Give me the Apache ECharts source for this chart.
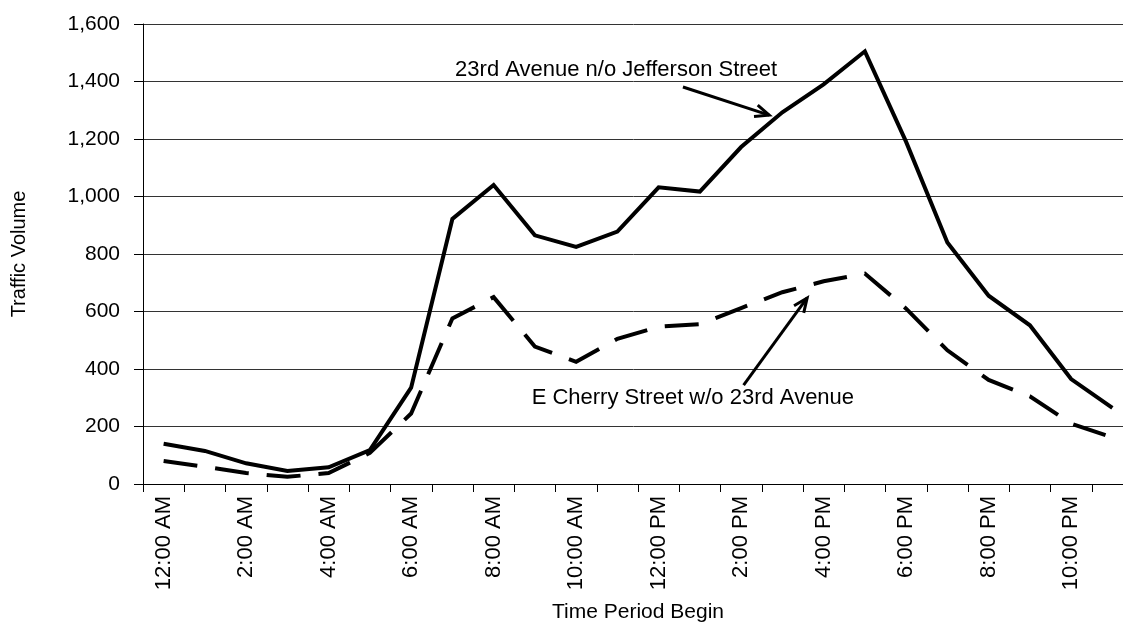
<!DOCTYPE html>
<html>
<head>
<meta charset="utf-8">
<script src="https://cdn.jsdelivr.net/npm/echarts@6/dist/echarts.min.js"></script>
<style>
html,body{margin:0;padding:0;background:#fff;}
#chart{width:1123px;height:627px;}
</style>
</head>
<body>
<div id="chart"></div>
<script>
var categories = ["12:00 AM","1:00 AM","2:00 AM","3:00 AM","4:00 AM","5:00 AM","6:00 AM","7:00 AM","8:00 AM","9:00 AM","10:00 AM","11:00 AM",
  "12:00 PM","1:00 PM","2:00 PM","3:00 PM","4:00 PM","5:00 PM","6:00 PM","7:00 PM","8:00 PM","9:00 PM","10:00 PM","11:00 PM"];
var avenue23 = [140,115,72,45,58,118,335,922,1040,865,825,878,1032,1017,1172,1293,1390,1505,1190,840,655,552,365,265];
var cherry = [80,60,38,25,38,108,245,576,650,478,425,505,547,556,612,667,705,732,610,465,362,305,210,162];
var seriesNames = ["23rd Avenue n/o Jefferson Street","E Cherry Street w/o 23rd Avenue"];
var yTicks = {min:0, max:1600, interval:200};

var FONT = "'Liberation Sans', Arial, sans-serif";
var chart = echarts.init(document.getElementById('chart'), null, {renderer:'canvas'});
chart.setOption({
  animation:false,
  backgroundColor:'#fff',
  grid:{left:143, right:-10, top:24, bottom:143, containLabel:false, outerBoundsMode:'none'},
  xAxis:{
    type:'category', data:categories, boundaryGap:true,
    name:'Time Period Begin', nameLocation:'middle', nameGap:118,
    nameTextStyle:{fontFamily:FONT, fontSize:21, color:'#000'},
    axisLine:{lineStyle:{color:'#000', width:1}},
    axisTick:{show:true, alignWithLabel:false, interval:0, length:8, lineStyle:{color:'#000'}},
    axisLabel:{interval:1, rotate:90, margin:12, fontFamily:FONT, fontSize:22, color:'#000'},
    splitLine:{show:false}
  },
  yAxis:{
    type:'value', min:yTicks.min, max:yTicks.max, interval:yTicks.interval,
    name:'Traffic Volume', nameLocation:'middle', nameGap:114, nameRotate:90,
    nameTextStyle:{fontFamily:FONT, fontSize:20, color:'#000'},
    axisLine:{show:true, lineStyle:{color:'#000', width:1}},
    axisTick:{show:true, length:9, lineStyle:{color:'#000'}},
    axisLabel:{margin:23, fontFamily:FONT, fontSize:21, color:'#000',
      formatter:function(v){return v.toLocaleString('en-US');}},
    splitLine:{show:true, lineStyle:{color:'#333', width:1}}
  },
  series:[
    {name:seriesNames[0], type:'line', data:avenue23, symbol:'none', smooth:false,
     lineStyle:{color:'#000', width:4, cap:'butt', join:'miter'}},
    {name:seriesNames[1], type:'line', data:cherry, symbol:'none', smooth:false,
     lineStyle:{color:'#000', width:4, type:[34,18], cap:'butt', join:'miter'}}
  ]
});

// annotation positions in data space (category index, value)
function px(idx, val){
  var i0 = Math.floor(idx), f = idx - i0;
  var a = chart.convertToPixel({gridIndex:0}, [i0, val]);
  var b = chart.convertToPixel({gridIndex:0}, [i0+1, val]);
  return [a[0] + f*(b[0]-a[0]), a[1]];
}
function arrow(p0, p1){
  var dx = p1[0]-p0[0], dy = p1[1]-p0[1];
  var L = Math.sqrt(dx*dx+dy*dy), ux = dx/L, uy = dy/L;
  var h = 14, w = 6;
  var bx = p1[0]-ux*h, by = p1[1]-uy*h;
  return [
    {type:'line', shape:{x1:p0[0],y1:p0[1],x2:p1[0],y2:p1[1]}, style:{stroke:'#000', lineWidth:3}},
    {type:'polyline', shape:{points:[[bx-uy*w, by+ux*w],[p1[0],p1[1]],[bx+uy*w, by-ux*w]]}, style:{stroke:'#000', lineWidth:3, fill:null}}
  ];
}
var t1 = px(10.97, 1440), t2 = px(12.83, 299);
var g = [
  {type:'text', x:t1[0], y:t1[1], style:{text:seriesNames[0], font:'22px '+FONT, fill:'#000', textAlign:'center', textVerticalAlign:'middle'}},
  {type:'text', x:t2[0], y:t2[1], style:{text:seriesNames[1], font:'22px '+FONT, fill:'#000', textAlign:'center', textVerticalAlign:'middle'}}
].concat(arrow(px(12.59,1381), px(14.68,1283))).concat(arrow(px(14.06,344), px(15.6,647)));
chart.setOption({graphic:g});
</script>
</body>
</html>
